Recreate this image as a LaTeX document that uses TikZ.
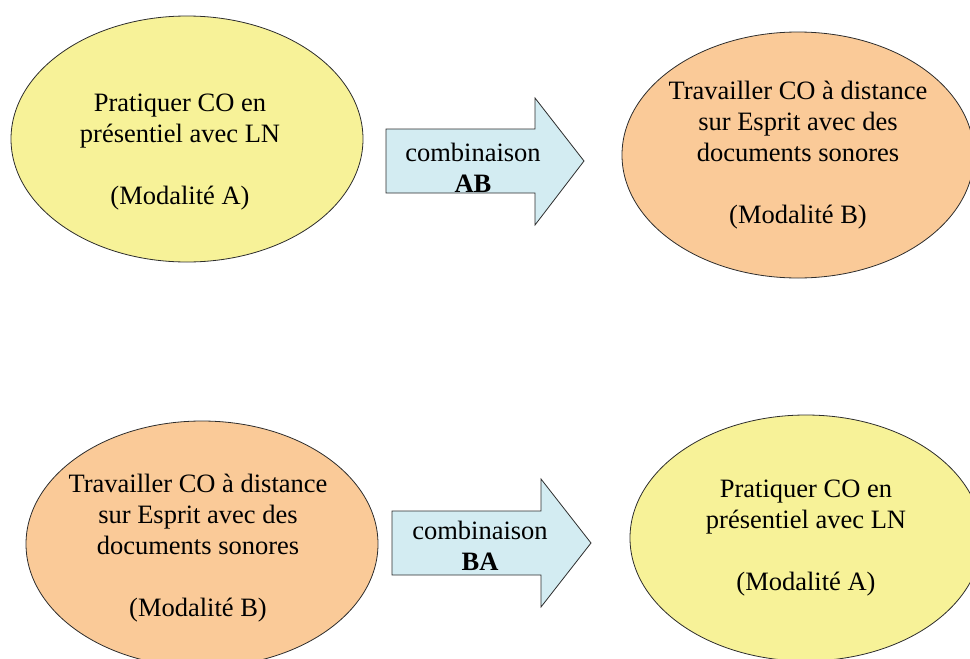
\documentclass[tikz,border=0pt]{standalone}
\usepackage{fontspec}
\setmainfont{Liberation Serif}
\usepackage{tikz}
\usetikzlibrary{positioning,shapes.geometric}
\definecolor{modajaune}{RGB}{247,242,152}
\definecolor{modaorange}{RGB}{250,202,152}
\definecolor{flechebleu}{RGB}{211,236,242}
\definecolor{trait}{RGB}{45,45,45}

\begin{document}
\begin{tikzpicture}[x=1pt,y=-1pt,
    moda/.style={ellipse,draw=trait,line width=0.8pt,minimum width=352pt,minimum height=246pt,inner sep=0pt},
    modaA/.style={moda,fill=modajaune},
    modaB/.style={moda,fill=modaorange},
    texte/.style={align=center,inner sep=0pt,font=\fontsize{26.5}{31}\selectfont},
    fleche/.style={draw=trait,line width=0.8pt,fill=flechebleu}]
  \useasboundingbox (0,0) rectangle (970,659);
  % premiere ligne : A puis B
  \node[modaA](hautA) at (187,139){};
  \node[texte](txthautA) at ([xshift=-7pt,yshift=-13pt]hautA.center){Pratiquer CO en\\présentiel avec LN\\[31pt](Modalité A)};
  \node[modaB](hautB) at (798,155){};
  \node[texte](txthautB) at (hautB.center){Travailler CO à distance\\sur Esprit avec des\\documents sonores\\[31pt](Modalité B)};
  \draw[fleche] (386,129) -- (535,129) -- (535,98) -- (584,161) -- (535,225) -- (535,193) -- (386,193) -- cycle;
  \node[texte](combAB) at (473,168){combinaison\\\textbf{AB}};
  % deuxieme ligne : B puis A
  \node[modaB](basB) at (202,544){};
  \node[texte](txtbasB) at ([xshift=-4pt,yshift=-4pt]basB.center){Travailler CO à distance\\sur Esprit avec des\\documents sonores\\[31pt](Modalité B)};
  \node[modaA](basA) at (806,538){};
  \node[texte](txtbasA) at (basA.center){Pratiquer CO en\\présentiel avec LN\\[31pt](Modalité A)};
  \draw[fleche] (392,511) -- (541,511) -- (541,479) -- (591,543) -- (541,607) -- (541,575) -- (392,575) -- cycle;
  \node[texte](combBA) at (480,546){combinaison\\\textbf{BA}};
\end{tikzpicture}
\end{document}
